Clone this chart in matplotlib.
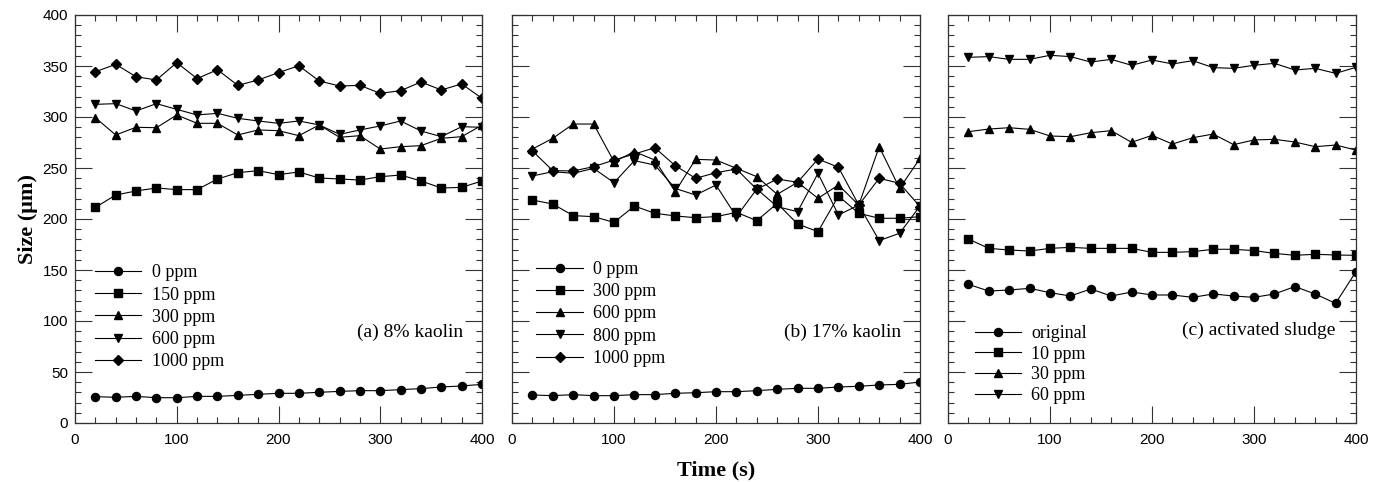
import matplotlib
matplotlib.use("Agg")
import matplotlib.pyplot as plt
import numpy as np

time_s = [20, 40, 60, 80, 100, 120, 140, 160, 180, 200,
          220, 240, 260, 280, 300, 320, 340, 360, 380, 400]

# (a) 8% kaolin
a_labels = ["0 ppm", "150 ppm", "300 ppm", "600 ppm", "1000 ppm"]
a_0 = [25.8, 25.2, 26.1, 24.8, 24.8, 26.1, 26.1, 27.1, 28.1, 29.1,
       29.1, 30.1, 31.0, 31.7, 31.7, 32.7, 33.7, 35.3, 36.3, 37.9]
a_150 = [211.4, 223.5, 227.5, 230.4, 228.8, 228.8, 239.2, 245.4, 247.4, 243.5,
         246.1, 240.2, 239.2, 238.2, 241.5, 243.1, 237.3, 230.4, 231.0, 237.3]
a_300 = [299.3, 282.4, 289.9, 289.5, 302.0, 293.8, 293.8, 282.4, 287.3, 286.6,
         281.7, 292.2, 280.1, 281.7, 268.6, 270.9, 271.9, 279.1, 280.7, 292.0]
a_600 = [312.4, 313.1, 305.9, 313.1, 307.5, 302.0, 303.6, 298.7, 296.1, 293.8,
         296.1, 292.2, 283.0, 287.3, 291.2, 296.1, 286.3, 280.7, 290.5, 289.9]
a_1000 = [344.4, 351.6, 339.5, 336.3, 353.3, 337.6, 346.4, 331.0, 336.3, 343.5,
          350.3, 335.3, 330.4, 331.0, 323.2, 325.8, 334.3, 326.5, 332.4, 318.3]

# (b) 17% kaolin
b_labels = ["0 ppm", "300 ppm", "600 ppm", "800 ppm", "1000 ppm"]
b_0 = [27.5, 26.8, 27.8, 26.8, 26.8, 27.8, 27.8, 29.1, 29.7, 30.7,
       30.7, 31.7, 33.0, 34.0, 34.0, 35.3, 36.0, 37.3, 37.9, 40.2]
b_300 = [218.6, 214.7, 203.3, 202.3, 196.7, 212.7, 205.6, 203.0, 201.3, 202.3,
         206.5, 198.4, 215.3, 195.1, 187.6, 222.5, 205.6, 200.7, 200.7, 202.3]
b_600 = [268.6, 279.1, 293.1, 293.1, 256.2, 266.0, 257.8, 226.8, 258.5, 257.8,
         249.7, 241.5, 224.2, 236.0, 220.3, 233.3, 213.7, 270.9, 230.0, 259.5]
b_800 = [242.2, 246.4, 244.8, 249.7, 235.6, 257.2, 252.9, 230.0, 223.5, 233.3,
         202.3, 229.4, 212.1, 207.2, 244.8, 203.9, 213.7, 178.8, 186.0, 212.7]
b_1000 = [266.7, 247.4, 247.1, 251.3, 257.8, 263.7, 269.9, 252.3, 239.9, 245.4,
          249.0, 229.1, 239.2, 236.0, 258.8, 250.7, 213.7, 239.9, 235.0, 212.1]

# (c) activated sludge
c_labels = ["original", "10 ppm", "30 ppm", "60 ppm"]
c_orig = [135.9, 129.4, 130.4, 132.0, 127.8, 124.5, 131.4, 124.5, 128.4, 125.5,
          125.5, 123.2, 126.5, 124.5, 123.2, 126.5, 133.7, 126.5, 117.3, 148.4]
c_10 = [180.4, 171.2, 169.6, 168.6, 171.2, 172.2, 171.2, 171.2, 171.2, 167.3,
        167.3, 168.0, 170.3, 170.3, 169.0, 166.3, 164.4, 165.4, 164.7, 164.4]
c_30 = [285.6, 288.2, 289.5, 287.9, 281.4, 280.7, 284.6, 286.6, 275.2, 282.0,
        273.5, 279.7, 283.3, 272.9, 277.5, 278.1, 275.5, 270.9, 272.5, 267.6]
c_60 = [358.5, 359.2, 356.5, 356.5, 360.5, 359.2, 353.9, 356.5, 350.7, 355.9,
        352.0, 355.2, 348.4, 347.7, 350.7, 352.6, 346.1, 347.7, 342.8, 348.7]

panel_titles = ["(a) 8% kaolin", "(b) 17% kaolin", "(c) activated sludge"]
x_ticks = [0, 100, 200, 300, 400]
y_ticks = [0, 50, 100, 150, 200, 250, 300, 350, 400]

marker_style = {"o": 5.8, "s": 5.5, "^": 6.2, "v": 6.2, "D": 4.8}

W, H = 1381, 482
fig = plt.figure(figsize=(W / 100, H / 100), dpi=100)

def px_axes(left, right, top=15, bottom=423):
    return fig.add_axes([left / W, (H - bottom) / H, (right - left) / W, (bottom - top) / H])

axes = [px_axes(75, 482), px_axes(512, 920), px_axes(948, 1356)]

panels = [
    (a_labels, [a_0, a_150, a_300, a_600, a_1000], ["o", "s", "^", "v", "D"]),
    (b_labels, [b_0, b_300, b_600, b_800, b_1000], ["o", "s", "^", "v", "D"]),
    (c_labels, [c_orig, c_10, c_30, c_60], ["o", "s", "^", "v"]),
]

legend_pos = [(0.050, 0.389), (0.060, 0.397), (0.065, 0.240)]
legend_spacing = [0.29, 0.29, 0.20]
title_pos = [(0.953, 0.221), (0.953, 0.223), (0.949, 0.228)]

spine_col = "0.2"
for i, (ax, (labels, series, markers)) in enumerate(zip(axes, panels)):
    for lab, ys, m in zip(labels, series, markers):
        ax.plot(time_s, ys, color="black", lw=0.8, marker=m,
                markersize=marker_style[m], markerfacecolor="black",
                markeredgecolor="black", label=lab)
    ax.set_xlim(0, 400)
    ax.set_ylim(0, 400)
    ax.set_xticks(x_ticks)
    ax.set_xticks(np.arange(0, 401, 20), minor=True)
    ax.set_yticks(y_ticks)
    ax.set_yticks(np.arange(0, 401, 10), minor=True)
    ax.tick_params(which="both", direction="in", top=True, right=True,
                   color=spine_col, width=0.8)
    ax.tick_params(which="major", length=12)
    ax.tick_params(which="minor", length=4.5)
    ax.tick_params(axis="x", which="major", pad=7)
    ax.tick_params(axis="y", which="major", pad=5)
    for lbl in ax.get_xticklabels() + ax.get_yticklabels():
        lbl.set_fontfamily("Liberation Sans")
        lbl.set_fontsize(11)
    if i > 0:
        ax.set_yticklabels([])
    for s in ax.spines.values():
        s.set_color(spine_col)
        s.set_linewidth(0.9)
    leg = ax.legend(loc="upper left", bbox_to_anchor=legend_pos[i],
                    frameon=False, numpoints=1, handlelength=2.55,
                    handletextpad=0.6, labelspacing=legend_spacing[i],
                    borderpad=0, borderaxespad=0,
                    prop={"family": "Liberation Serif", "size": 13})
    ax.text(title_pos[i][0], title_pos[i][1], panel_titles[i],
            transform=ax.transAxes, ha="right", va="center",
            family="Liberation Serif", fontsize=14)

axes[0].set_ylabel("Size (\u03bcm)", family="Liberation Serif",
                   fontweight="bold", fontsize=16, labelpad=3)
axes[1].set_xlabel("Time (s)", family="Liberation Serif",
                   fontweight="bold", fontsize=16, labelpad=10)

fig.savefig("out.png", dpi=100)
